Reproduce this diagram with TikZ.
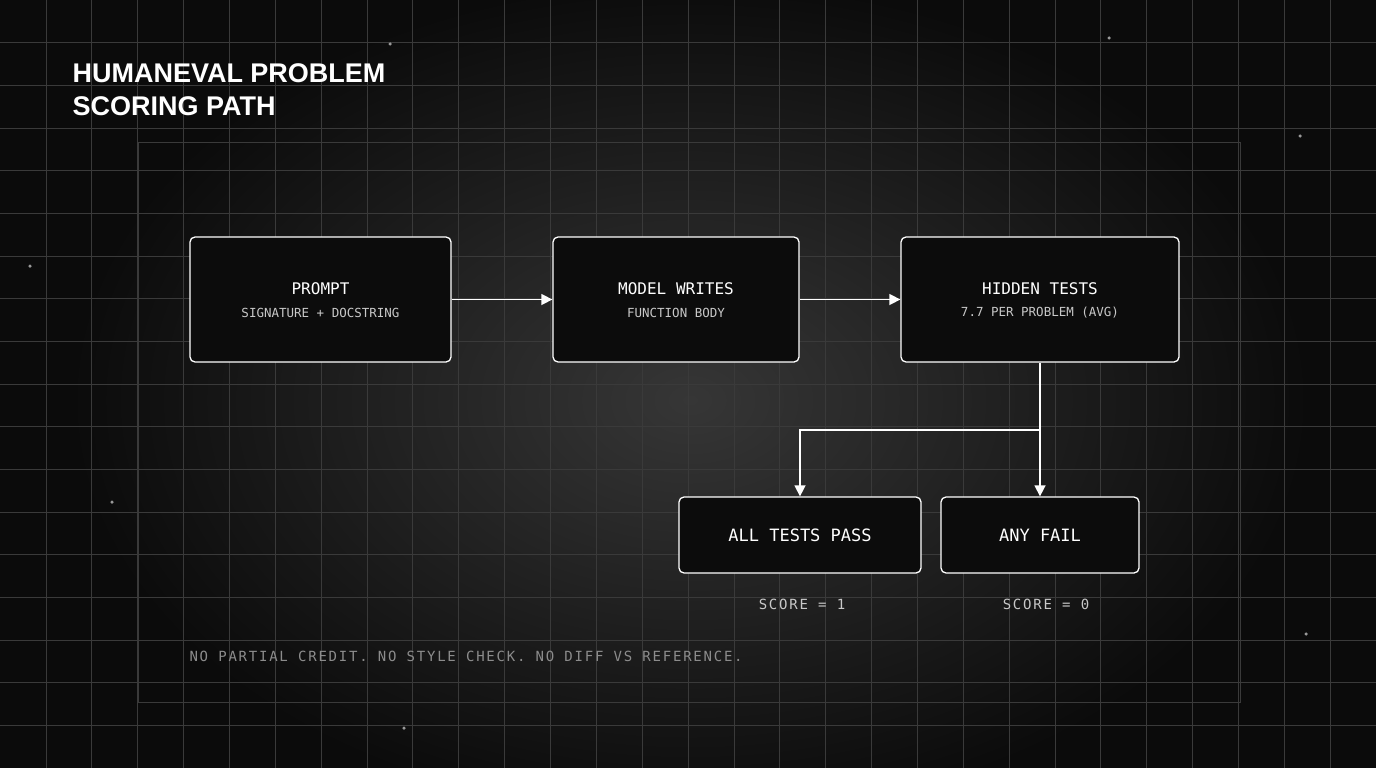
\documentclass[tikz,border=0pt]{standalone}
\usepackage{fontspec}
\setsansfont{Liberation Sans}
\setmonofont{DejaVu Sans Mono}
\usetikzlibrary{arrows.meta}
\definecolor{bg}{HTML}{0B0B0B}
\definecolor{glow}{HTML}{363636}
\definecolor{gridc}{HTML}{3A3A3A}
\definecolor{boxf}{HTML}{0C0C0C}
\definecolor{subc}{HTML}{C8C8C8}
\begin{document}
\begin{tikzpicture}[x=1pt,y=-1pt,
  box/.style={draw=white,line width=1.3pt,rounded corners=5pt,fill=boxf},
  ttl/.style={font=\ttfamily\fontsize{16}{19}\selectfont,text=white},
  sub/.style={font=\ttfamily\fontsize{12.5}{15}\selectfont,text=subc},
  spaced/.style={font=\ttfamily\fontsize{14}{16}\selectfont\addfontfeature{LetterSpace=12.6}},
  arr/.style={draw=white,line width=1.5pt,-{Triangle[length=11pt,width=11pt]}},
  dot/.style={fill=gray!80,circle,inner sep=0pt,minimum size=3.5pt}]
\useasboundingbox (0,0) rectangle (1376,768);
\begin{scope}
\clip (0,0) rectangle (1376,768);
\fill[bg] (0,0) rectangle (1376,768);
\shade[inner color=glow,outer color=bg] (690,400) ellipse (620 and 420);
\end{scope}
\foreach \i in {1,...,29} \draw[gridc,line width=0.7pt] ({\i*45.8667},0) -- ({\i*45.8667},768);
\foreach \j in {1,...,17} \draw[gridc,line width=0.7pt] (0,{\j*42.6667}) -- (1376,{\j*42.6667});
\draw[gridc,line width=0.7pt] (138,142) rectangle (1240,702);
\foreach \p in {(390,44),(1109,38),(1300,136),(30,266),(112,502),(1306,634),(404,728)} \node[dot] at \p {};
\node[anchor=north west,align=left,text=white,font=\sffamily\bfseries\fontsize{27}{33}\selectfont] (title) at (69,60) {HUMANEVAL PROBLEM\\SCORING PATH};
\node[box,minimum width=261pt,minimum height=125pt] (prompt) at (320.5,299.5) {};
\node[ttl] at (320.5,289) {PROMPT};
\node[sub] at (320.5,313) {SIGNATURE + DOCSTRING};
\node[box,minimum width=246pt,minimum height=125pt] (model) at (676,299.5) {};
\node[ttl] at (676,289) {MODEL WRITES};
\node[sub] at (676,313) {FUNCTION BODY};
\node[box,minimum width=278pt,minimum height=125pt] (hidden) at (1040,299.5) {};
\node[ttl] at (1040,289) {HIDDEN TESTS};
\node[sub] at (1040,313) {7.7 PER PROBLEM (AVG)};
\node[box,minimum width=242pt,minimum height=76pt,ttl,font=\ttfamily\fontsize{17}{20}\selectfont] (pass) at (800,535) {ALL TESTS PASS};
\node[box,minimum width=198pt,minimum height=76pt,ttl,font=\ttfamily\fontsize{17}{20}\selectfont] (fail) at (1040,535) {ANY FAIL};
\node[spaced,text=subc] (s1) at (802,604) {SCORE = 1};
\node[spaced,text=subc] (s0) at (1046,604) {SCORE = 0};
\node[anchor=west,text=gray!90,spaced] (foot) at (186,656) {NO PARTIAL CREDIT. NO STYLE CHECK. NO DIFF VS REFERENCE.};
\draw[arr] (prompt.east) -- (model.west);
\draw[arr] (model.east) -- (hidden.west);
\draw[arr] (hidden.south) -- (fail.north);
\coordinate (br) at (1040,430);
\draw[arr] (br) -| (pass.north);
\end{tikzpicture}
\end{document}
